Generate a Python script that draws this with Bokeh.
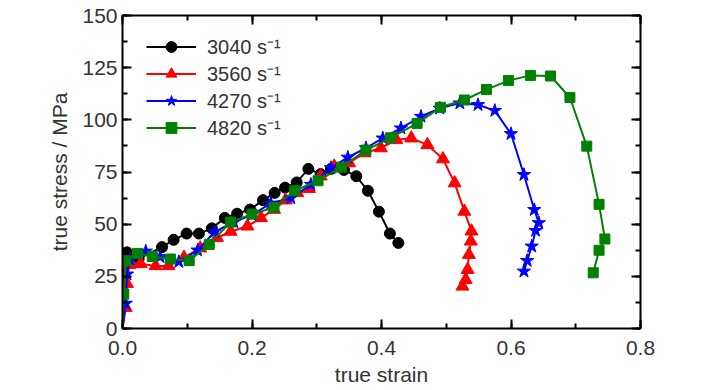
from bokeh.plotting import figure
from bokeh.models import (Range1d, LinearAxis, SingleIntervalTicker, NumeralTickFormatter,
                          CustomJSTickFormatter, Legend, LegendItem)
from bokeh.embed import file_html
from bokeh.resources import INLINE

# ---- data ----
series_labels = ["3040 s⁻¹", "3560 s⁻¹", "4270 s⁻¹", "4820 s⁻¹"]

strain_3040 = [0.0, 0.002, 0.007, 0.025, 0.061, 0.079, 0.099, 0.118, 0.138, 0.158, 0.177, 0.197,
               0.217, 0.235, 0.251, 0.269, 0.287, 0.306, 0.322, 0.342, 0.361, 0.379, 0.396,
               0.413, 0.426]
stress_3040 = [0.0, 36.0, 36.5, 33.5, 39.0, 42.5, 45.5, 45.5, 48.0, 53.0, 55.0, 57.0,
               61.5, 65.0, 67.5, 70.0, 76.5, 74.0, 76.5, 76.0, 73.0, 66.0, 56.0,
               45.5, 41.0]

strain_3560 = [0.0, 0.005, 0.007, 0.010, 0.028, 0.051, 0.071, 0.095, 0.120, 0.146, 0.167, 0.193,
               0.214, 0.234, 0.252, 0.270, 0.288, 0.306, 0.327, 0.350, 0.374, 0.399, 0.423,
               0.446, 0.471, 0.495, 0.513, 0.528, 0.539, 0.538, 0.535, 0.533, 0.530, 0.525]
stress_3560 = [0.0, 10.0, 21.5, 30.5, 31.0, 30.0, 30.0, 34.0, 38.5, 43.5, 46.5, 49.0,
               53.0, 57.0, 61.5, 65.0, 67.0, 73.0, 77.7, 79.3, 84.1, 86.5, 90.4,
               91.2, 88.0, 81.2, 69.7, 56.1, 46.6, 41.8, 35.4, 28.2, 23.4, 20.2]

strain_4270 = [0.0, 0.005, 0.007, 0.012, 0.036, 0.058, 0.087, 0.116, 0.142, 0.172, 0.200, 0.229,
               0.260, 0.291, 0.322, 0.348, 0.376, 0.402, 0.430, 0.461, 0.490, 0.521, 0.549,
               0.575, 0.600, 0.620, 0.636, 0.643, 0.638, 0.632, 0.625, 0.620]
stress_4270 = [0.0, 12.0, 26.0, 33.0, 37.0, 34.3, 32.0, 37.5, 46.3, 51.0, 54.5, 60.0,
               62.5, 69.0, 77.0, 82.0, 86.5, 91.2, 96.0, 101.6, 105.5, 108.0, 107.2,
               104.4, 93.3, 73.7, 56.9, 50.6, 46.9, 39.4, 32.5, 27.4]

strain_4820 = [0.0, 0.002, 0.005, 0.023, 0.046, 0.074, 0.103, 0.134, 0.167, 0.200, 0.234, 0.266,
               0.302, 0.338, 0.376, 0.414, 0.455, 0.491, 0.528, 0.562, 0.596, 0.630, 0.661,
               0.691, 0.717, 0.736, 0.745, 0.736, 0.727]
stress_4820 = [0.0, 16.5, 32.5, 36.0, 34.5, 33.3, 32.5, 40.3, 51.0, 54.8, 58.0, 66.0,
               70.8, 77.3, 85.5, 91.4, 98.3, 106.0, 109.5, 114.5, 118.8, 121.3, 121.0,
               110.7, 87.4, 59.5, 42.9, 37.5, 26.7]

x_label = "true strain"
y_label = "true stress / MPa"

FONT = "Liberation Sans"
TXT = "#333333"

p = figure(frame_width=518, frame_height=313,
           min_border_left=122, min_border_top=15, min_border_right=60, min_border_bottom=46,
           x_range=Range1d(0, 0.8), y_range=Range1d(0, 150),
           output_backend="svg", toolbar_location=None,
           x_axis_type=None, y_axis_type=None)
p.xgrid.visible = False
p.ygrid.visible = False
p.outline_line_color = None
p.background_fill_color = "white"
p.border_fill_color = "white"


def make_axis(kind, show_labels, label=None):
    if kind == "x":
        ticker = SingleIntervalTicker(interval=0.2, num_minor_ticks=2)
    else:
        ticker = SingleIntervalTicker(interval=25, num_minor_ticks=2)
    ax = LinearAxis(ticker=ticker)
    if kind == "x":
        ax.formatter = NumeralTickFormatter(format="0.0")
    ax.axis_line_color = "black"
    ax.axis_line_width = 2
    ax.major_tick_line_color = "black"
    ax.major_tick_line_width = 2
    ax.minor_tick_line_color = "black"
    ax.minor_tick_line_width = 2
    ax.major_tick_in = 9
    ax.major_tick_out = 0
    ax.minor_tick_in = 5
    ax.minor_tick_out = 0
    if show_labels:
        ax.major_label_text_font = FONT
        ax.major_label_text_font_size = "21px"
        ax.major_label_text_color = TXT
        ax.axis_label = label
        ax.axis_label_text_font = FONT
        ax.axis_label_text_font_size = "21px"
        ax.axis_label_text_font_style = "normal"
        ax.axis_label_text_color = TXT
    else:
        ax.formatter = CustomJSTickFormatter(code="return ''")
        ax.major_label_text_font_size = "1px"
        ax.major_label_standoff = 0
    return ax


xb = make_axis("x", True, x_label)
xb.major_label_standoff = 12
xb.axis_label_standoff = 5
yl = make_axis("y", True, y_label)
yl.major_label_standoff = 5
yl.axis_label_standoff = 8
p.add_layout(xb, "below")
p.add_layout(yl, "left")
p.add_layout(make_axis("x", False), "above")
p.add_layout(make_axis("y", False), "right")

series = [
    (strain_3040, stress_3040, "black", "circle", 11),
    (strain_3560, stress_3560, "red", "triangle", 13),
    (strain_4270, stress_4270, "blue", "star", 14),
    (strain_4820, stress_4820, "green", "square", 10),
]

items = []
for (xs, ys, col, mk, sz), lab in zip(series, series_labels):
    r1 = p.line(xs, ys, line_color=col, line_width=2)
    r2 = p.scatter(xs[1:], ys[1:], marker=mk, size=sz, fill_color=col, line_color=col)
    items.append(LegendItem(label=lab, renderers=[r1, r2]))

legend = Legend(items=items, location=(24, 187))
legend.margin = 0
legend.padding = 8
legend.spacing = 0
legend.glyph_width = 50
legend.glyph_height = 27
legend.label_height = 27
legend.label_standoff = 11
legend.label_text_font = FONT
legend.label_text_font_size = "20px"
legend.label_text_color = TXT
legend.label_text_baseline = "middle"
legend.background_fill_alpha = 0
legend.border_line_color = None
p.add_layout(legend, "center")

open("out.html", "w").write(file_html(p, INLINE))
